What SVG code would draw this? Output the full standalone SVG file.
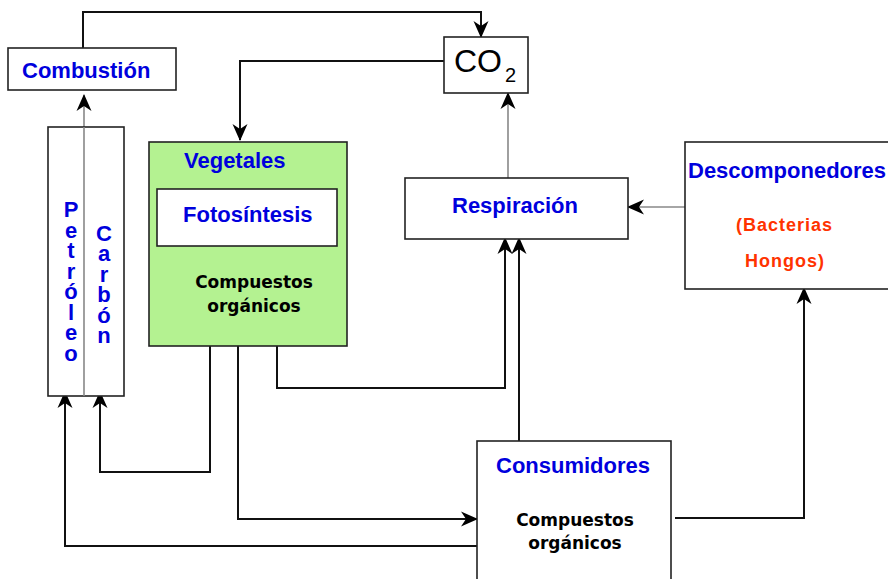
<svg xmlns="http://www.w3.org/2000/svg" width="888" height="579" viewBox="0 0 888 579">
<defs>
<marker id="arr" markerUnits="userSpaceOnUse" markerWidth="16" markerHeight="15" refX="16" refY="7.5" orient="auto" overflow="visible">
<path d="M0,0 L17,7.5 L0,15 L5,7.5 z" fill="#000"/>
</marker>
</defs>
<style>
.box{fill:#fff;stroke:#222;stroke-width:1.6}
.green{fill:#b4f291;stroke:#222;stroke-width:1.6}
.lbl{font-family:"Liberation Sans",Arial,sans-serif;font-weight:bold;font-size:22px;fill:#0000dd}
.vert{font-family:"Liberation Sans",Arial,sans-serif;font-weight:bold;font-size:22px;fill:#0000dd;text-anchor:middle;writing-mode:vertical-rl;text-orientation:upright;letter-spacing:-4.5px}
.comp{font-family:"DejaVu Sans",Verdana,sans-serif;font-weight:bold;font-size:17px;fill:#000;text-anchor:middle}
.org{font-family:"Liberation Sans",Arial,sans-serif;font-weight:bold;font-size:18px;fill:#ff3300;letter-spacing:1px}
.ln{fill:none;stroke:#111;stroke-width:2}
.gl{fill:none;stroke:#888;stroke-width:1.6}
</style>
<rect width="888" height="579" fill="#fff"/>

<g id="connectors">
<path class="ln" d="M83,48 V12 H481 V37" marker-end="url(#arr)"/>
<path class="ln" d="M444,61 H240 V140" marker-end="url(#arr)"/>
<path class="gl" d="M508,178 V93" marker-end="url(#arr)"/>
<path class="gl" d="M685,207 H628" marker-end="url(#arr)"/>
<path class="gl" d="M84,127 V95" marker-end="url(#arr)"/>
<path class="ln" d="M210,346 V472 H100 V392" marker-end="url(#arr)"/>
<path class="ln" d="M238,346 V519 H477" marker-end="url(#arr)"/>
<path class="ln" d="M277,346 V388 H505 V238" marker-end="url(#arr)"/>
<path class="ln" d="M519,441 V238" marker-end="url(#arr)"/>
<path class="ln" d="M675,518 H804 V288" marker-end="url(#arr)"/>
<path class="ln" d="M477,546 H65 V392" marker-end="url(#arr)"/>
</g>

<g id="combustion">
<rect class="box" x="8" y="48" width="168" height="42"/>
<text class="lbl" x="22" y="78">Combustión</text>
</g>

<g id="co2">
<rect class="box" x="444" y="37" width="84" height="56"/>
<text x="454" y="72" font-family="Liberation Sans,Arial,sans-serif" font-size="32" fill="#000">CO</text>
<text x="505" y="82" font-family="Liberation Sans,Arial,sans-serif" font-size="20" fill="#000">2</text>
</g>

<g id="fosiles">
<rect class="box" x="48" y="127" width="76" height="269"/>
<line class="gl" x1="84" y1="127" x2="84" y2="396"/>
<text class="vert" x="71" y="279">Petróleo</text>
<text class="vert" x="104" y="282">Carbón</text>
</g>

<g id="vegetales">
<rect class="green" x="149" y="142" width="198" height="204"/>
<text class="lbl" x="184" y="168">Vegetales</text>
<rect class="box" x="157" y="189" width="180" height="57"/>
<text class="lbl" x="183" y="222">Fotosíntesis</text>
<text class="comp" x="254" y="288">Compuestos</text>
<text class="comp" x="254" y="312">orgánicos</text>
</g>

<g id="respiracion">
<rect class="box" x="405" y="178" width="223" height="61"/>
<text class="lbl" x="452" y="213">Respiración</text>
</g>

<g id="descomponedores">
<rect class="box" x="685" y="142" width="215" height="147"/>
<text class="lbl" x="688" y="178">Descomponedores</text>
<text class="org" x="736" y="231">(Bacterias</text>
<text class="org" x="745" y="267">Hongos)</text>
</g>

<g id="consumidores">
<rect class="box" x="477" y="441" width="194" height="150"/>
<text class="lbl" x="496" y="473">Consumidores</text>
<text class="comp" x="575" y="526">Compuestos</text>
<text class="comp" x="575" y="549">orgánicos</text>
</g>
</svg>
